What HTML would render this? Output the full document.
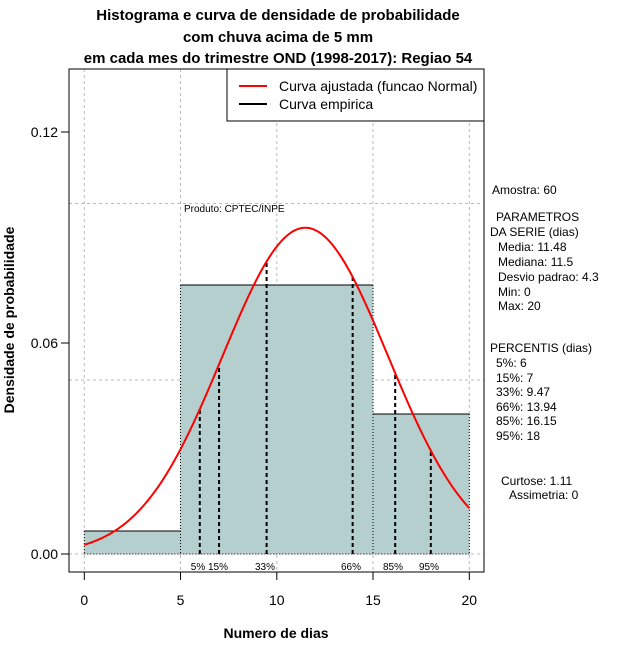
<!DOCTYPE html>
<html><head><meta charset="utf-8"><style>
body{margin:0;background:#fff;}
svg{font-family:"Liberation Sans",sans-serif;}
</style></head><body>
<svg id="s" width="640" height="660" viewBox="0 0 640 660" xmlns="http://www.w3.org/2000/svg">
<rect width="640" height="660" fill="#fff"/>
<g font-weight="bold" font-size="15" text-anchor="middle">
<text x="278" y="20">Histograma e curva de densidade de probabilidade</text>
<text x="278" y="42">com chuva acima de 5 mm</text>
<text x="278" y="63">em cada mes do trimestre OND (1998-2017): Regiao 54</text>
</g>
<g stroke="#bbb" stroke-dasharray="3,3" stroke-width="1">
<path d="M84.3 69V572M180.5 69V572M276.8 69V572M373 69V572M469.3 69V572M69 203.5H484M69 380H484M69 554H484"/>
</g>
<g fill="#b5cfcf">
<rect x="84.3" y="531" width="96.2" height="23"/>
<rect x="180.5" y="285" width="192.5" height="269"/>
<rect x="373" y="414" width="96.3" height="140"/>
</g>
<g stroke="#000" stroke-width="1" fill="none">
<path d="M84.3 531H180.5M180.5 285H373M373 414H469.3"/>
<path d="M84.3 531V554M180.5 285V554M373 285V554M469.3 414V554M84.3 554H469.3" stroke-dasharray="1,2"/>
</g>
<g id="dash" stroke="#000" stroke-width="2" stroke-dasharray="4,3"></g>
<path id="curve" fill="none" stroke="#f00" stroke-width="2"/>
<rect x="69" y="69" width="415" height="503" fill="none" stroke="#000"/>
<rect x="227" y="69" width="257" height="52" fill="#fff" stroke="#000"/>
<line x1="239" y1="86" x2="267" y2="86" stroke="#f00" stroke-width="2"/>
<line x1="239" y1="104" x2="267" y2="104" stroke="#000" stroke-width="2"/>
<g font-size="14"><text x="279" y="91">Curva ajustada (funcao Normal)</text><text x="279" y="109">Curva empirica</text></g>
<text x="184" y="212" font-size="10">Produto: CPTEC/INPE</text>
<g font-size="10" text-anchor="middle">
<text x="198" y="570">5%</text><text x="218" y="570">15%</text><text x="265" y="570">33%</text>
<text x="351" y="570">66%</text><text x="393" y="570">85%</text><text x="429" y="570">95%</text>
</g>
<g stroke="#000"><path d="M84.3 572V580M180.5 572V580M276.8 572V580M373 572V580M469.3 572V580M69 132H61M69 343H61M69 554H61"/></g>
<g font-size="14" text-anchor="middle">
<text x="84.3" y="605">0</text><text x="180.5" y="605">5</text><text x="276.8" y="605">10</text><text x="373" y="605">15</text><text x="469.3" y="605">20</text>
</g>
<g font-size="14" text-anchor="end">
<text x="58" y="137">0.12</text>
<text x="58" y="348">0.06</text>
<text x="58" y="559">0.00</text>
</g>
<text x="276" y="638" font-size="14" font-weight="bold" text-anchor="middle">Numero de dias</text>
<text transform="translate(14,320) rotate(-90)" font-size="14" font-weight="bold" text-anchor="middle">Densidade de probabilidade</text>
<g font-size="12">
<text x="492" y="194">Amostra: 60</text>
<text x="496" y="221">PARAMETROS</text>
<text x="490" y="236">DA SERIE (dias)</text>
<text x="498" y="251">Media: 11.48</text>
<text x="498" y="266">Mediana: 11.5</text>
<text x="498" y="281">Desvio padrao: 4.3</text>
<text x="498" y="296">Min: 0</text>
<text x="498" y="310">Max: 20</text>
<text x="490" y="352">PERCENTIS (dias)</text>
<text x="496" y="367">5%: 6</text>
<text x="496" y="382">15%: 7</text>
<text x="496" y="396">33%: 9.47</text>
<text x="496" y="411">66%: 13.94</text>
<text x="496" y="425">85%: 16.15</text>
<text x="496" y="440">95%: 18</text>
<text x="501" y="485">Curtose: 1.11</text>
<text x="509" y="499">Assimetria: 0</text>
</g>
</svg>
<script>
var m=11.48,s=4.3;
function d(x){return Math.exp(-0.5*Math.pow((x-m)/s,2))/(s*Math.sqrt(2*Math.PI));}
function X(x){return 84.3+x*19.25;}
function Y(y){return 554-y*3516.7;}
var p="";
for(var i=0;i<=200;i++){var x=i/10;p+=(i?"L":"M")+X(x).toFixed(2)+" "+Y(d(x)).toFixed(2);}
document.getElementById("curve").setAttribute("d",p);
var q=[6,7,9.47,13.94,16.15,18],dp="";
q.forEach(function(v){dp+="M"+X(v).toFixed(2)+" 554V"+Y(d(v)).toFixed(2);});
var e=document.createElementNS("http://www.w3.org/2000/svg","path");
e.setAttribute("d",dp);document.getElementById("dash").appendChild(e);
</script>
</body></html>
